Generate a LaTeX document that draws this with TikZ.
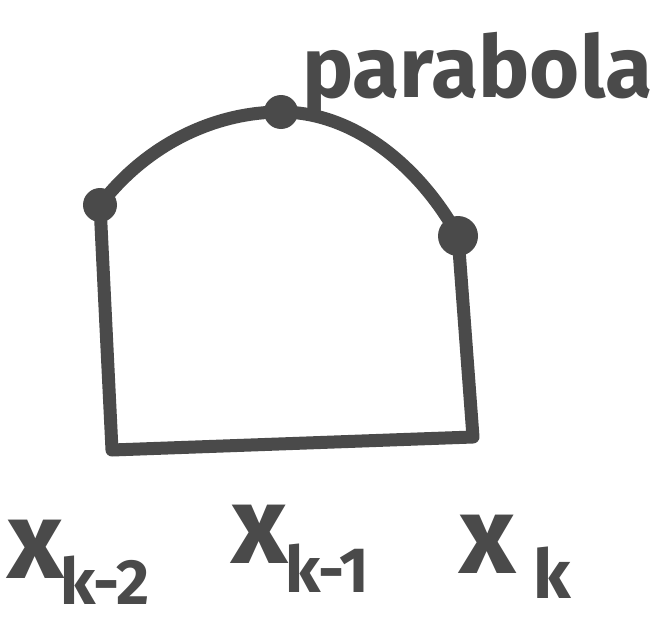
\documentclass[tikz,border=0pt]{standalone}
\usepackage{fontspec}
\setmainfont{Fira Sans}
\begin{document}
\begin{tikzpicture}[x=1pt,y=-1pt,
  ink/.style={draw=inkc, line width=13pt, line cap=round, line join=round},
  dot/.style={circle, fill=inkc, inner sep=0pt, minimum size=#1},
  lbl/.style={text=inkc, inner sep=0pt, font=\bfseries\fontsize{#1}{#1}\selectfont},
]
\definecolor{inkc}{HTML}{4A4A4A}
\useasboundingbox (0,0) rectangle (667,621);
\coordinate (bl) at (112,450);
\coordinate (br) at (473,437);
\node[dot=34pt] (pl) at (100,205) {};
\node[dot=34pt] (pt) at (281,112) {};
\node[dot=40pt] (pr) at (458,236) {};
\draw[ink] (pl.center) -- (bl) -- (br) -- (pr.center);
\draw[ink] (pl.center) .. controls (150,140) and (220,112) .. (pt.center)
  .. controls (360,112) and (425,175) .. (pr.center);
\node[lbl=86pt, anchor=base west] (par) at (302,97) {parabola};
% labels
\node[lbl=110pt, anchor=base] (x1) at (36,578) {x};
\node[lbl=64pt, anchor=base west] (s1) at (60,604) {k-2};
\node[lbl=110pt, anchor=base] (x2) at (260,563) {x};
\node[lbl=64pt, anchor=base west] (s2) at (285,592) {k-1};
\node[lbl=110pt, anchor=base] (x3) at (488,573) {x};
\node[lbl=68pt, anchor=base west] (s3) at (533,598) {k};
\end{tikzpicture}
\end{document}
